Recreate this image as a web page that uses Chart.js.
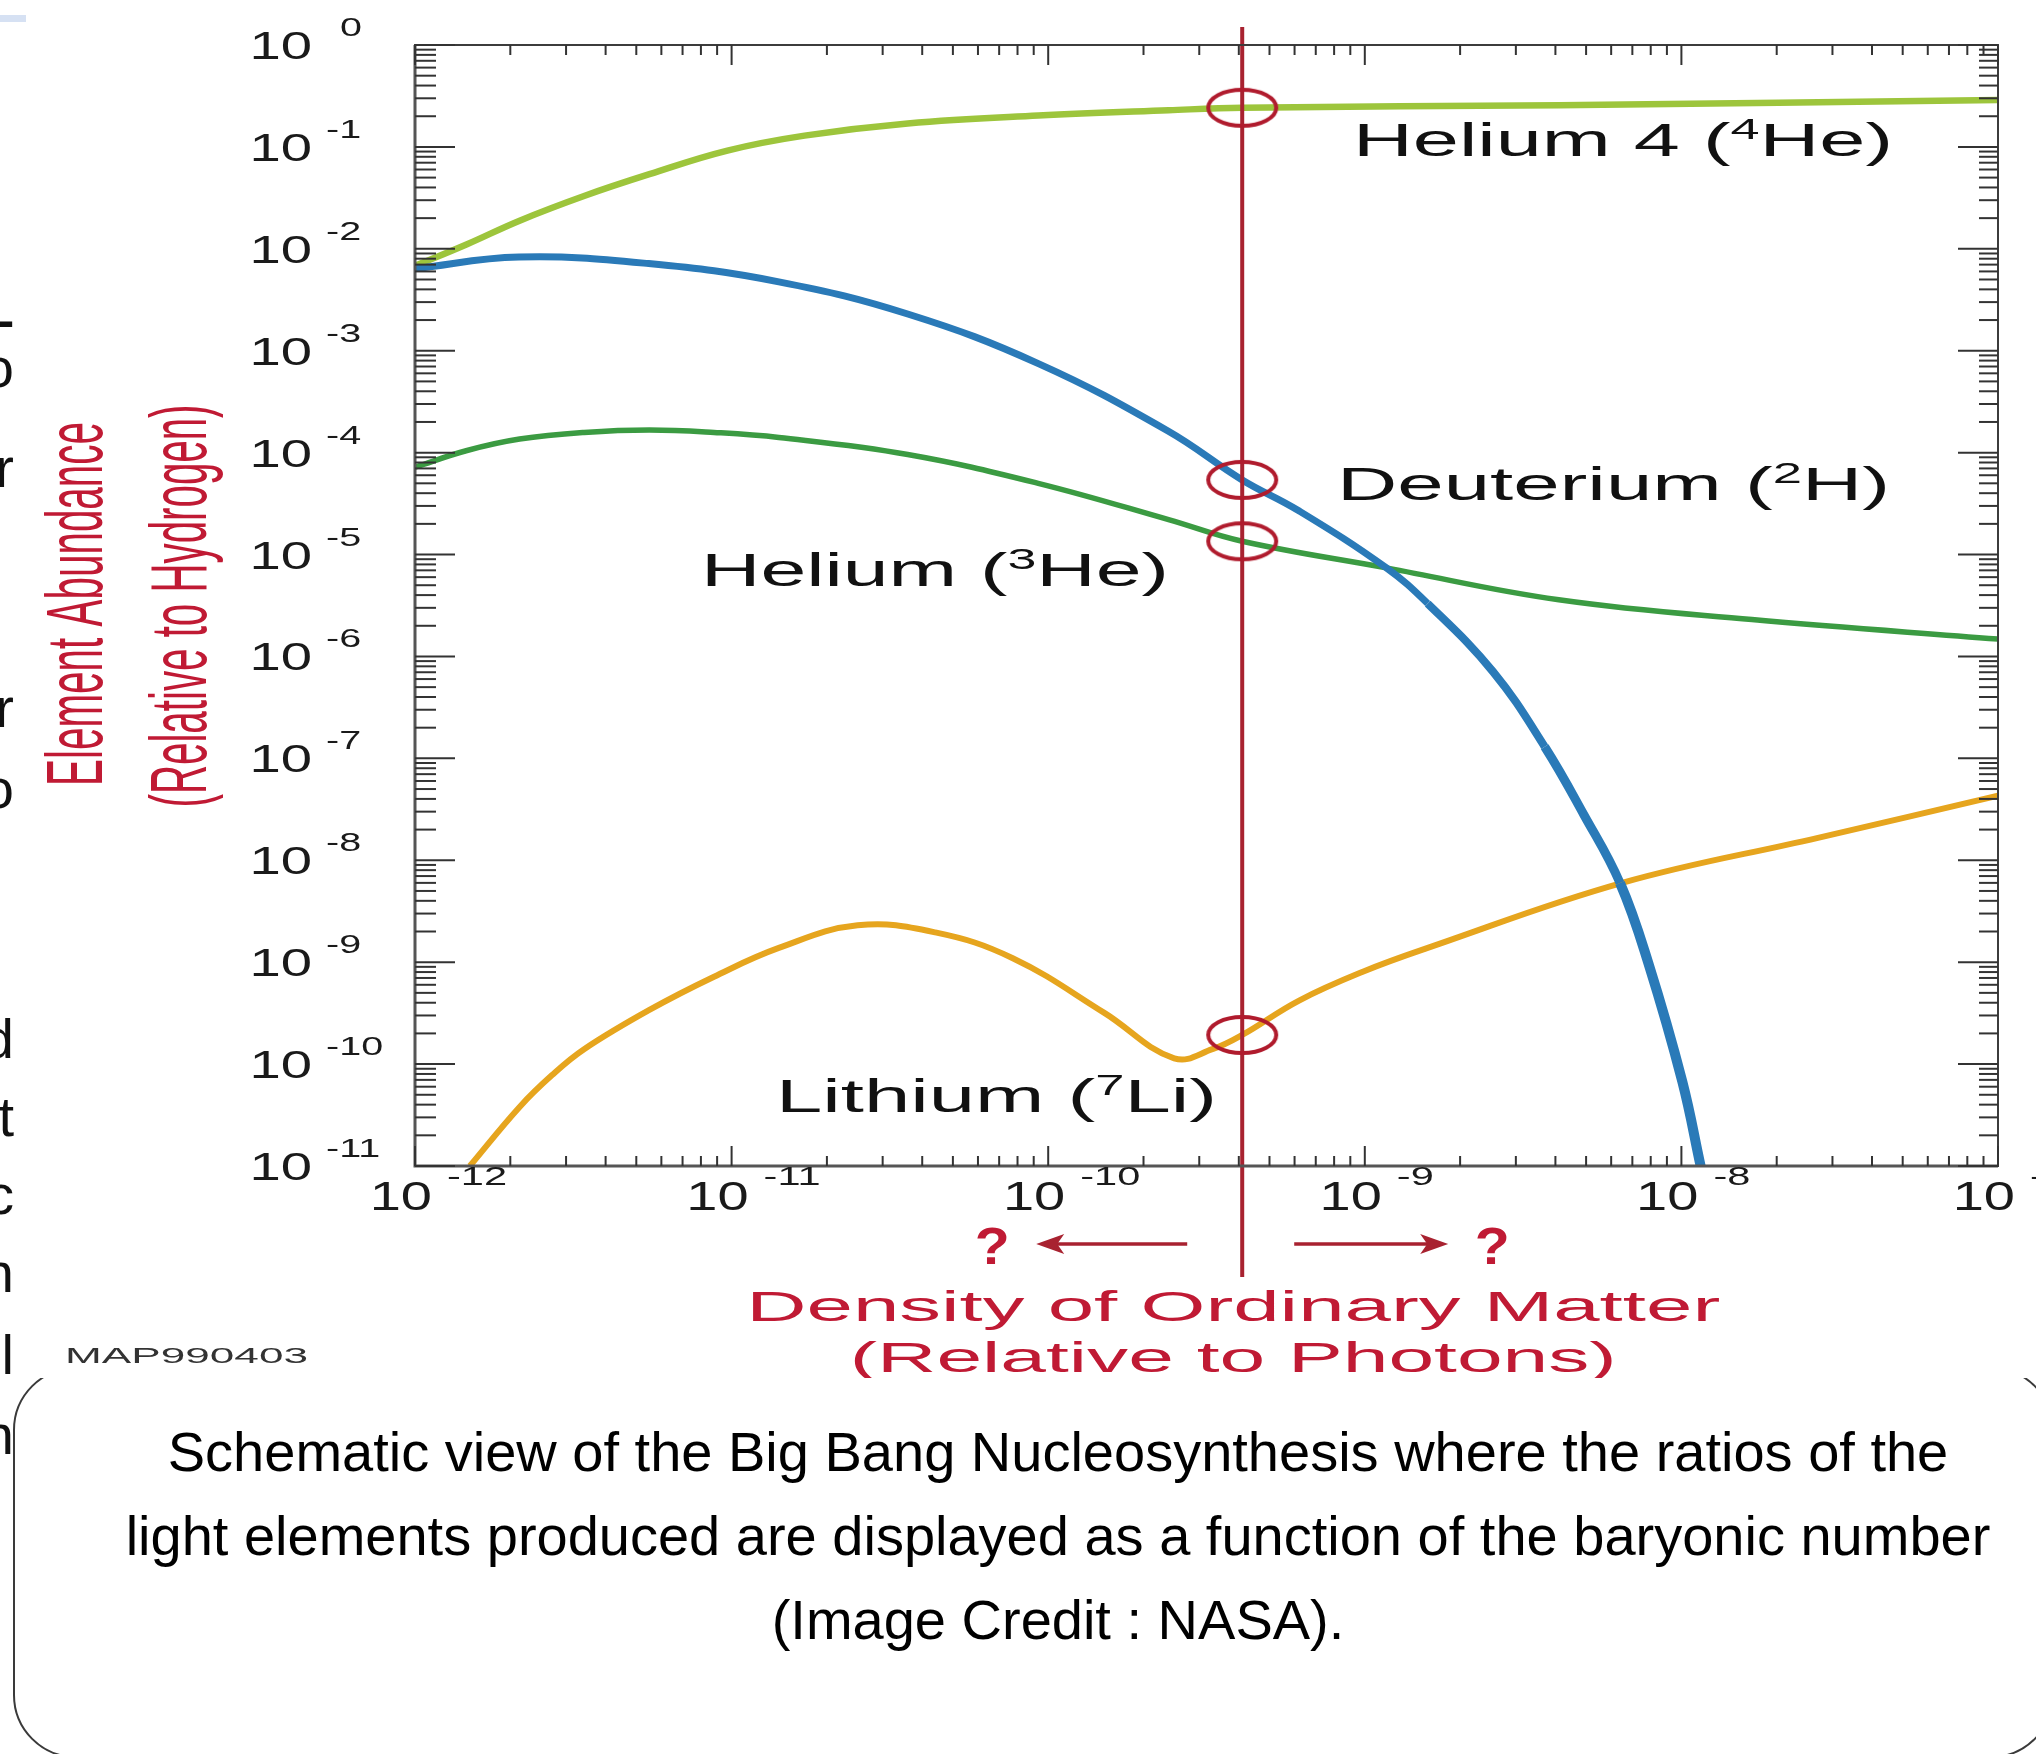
<!DOCTYPE html>
<html>
<head>
<meta charset="utf-8">
<title>Big Bang Nucleosynthesis</title>
<script src="https://cdn.jsdelivr.net/npm/chart.js@4.4.1/dist/chart.umd.min.js"></script>
<style>
  html, body { margin: 0; padding: 0; background: #fff; }
  body { width: 2036px; height: 1754px; position: relative; overflow: hidden; font-family: "Liberation Sans", Arial, sans-serif; }
  #chart-wrap { position: absolute; left: 0; top: 0; width: 2036px; height: 1378px; background: #fff; z-index: 2; }
  #caption-box { position: absolute; left: 13px; top: 1367px; width: 2041px; height: 391px; box-sizing: border-box; border: 2px solid #3a3a3a; border-radius: 63px; z-index: 1; }
  #caption { position: absolute; left: 13px; top: 1410px; width: 2090px; text-align: center; font-size: 56px; line-height: 84px; color: #000; z-index: 3; }
  .edge { position: absolute; left: -200px; width: 214px; text-align: right; font-size: 56px; line-height: 56px; color: #111; z-index: 3; }
  #topbar { position: absolute; left: 0; top: 15px; width: 26px; height: 7px; background: #d6e1f3; z-index: 3; }
</style>
</head>
<body>
<div id="topbar"></div>
<div id="chart-wrap"><canvas id="bbn-chart"></canvas></div>
<div id="caption-box"></div>
<div id="caption">Schematic view of the Big Bang Nucleosynthesis where the ratios of the<br>light elements produced are displayed as a function of the baryonic number<br>(Image Credit : NASA).</div>
<div class="edge" style="top:292px;font-weight:bold">–</div>
<div class="edge" style="top:340px">o</div>
<div class="edge" style="top:440px">r</div>
<div class="edge" style="top:680px">r</div>
<div class="edge" style="top:761px">o</div>
<div class="edge" style="top:1011px">d</div>
<div class="edge" style="top:1089px">t</div>
<div class="edge" style="top:1167px">c</div>
<div class="edge" style="top:1245px">n</div>
<div class="edge" style="top:1327px">l</div>
<div class="edge" style="top:1407px">n</div>
<script>
// ---- data ----
const xTickExponents = [-12, -11, -10, -9, -8, -7];
const yTickExponents = [0, -1, -2, -3, -4, -5, -6, -7, -8, -9, -10, -11];

const he4X = [1.0e-12, 1.46e-12, 2.14e-12, 3.42e-12, 5.5e-12, 9.7e-12, 1.7e-11, 3.6e-11, 9.3e-11, 2.4e-10, 4.1e-10, 4.1e-9, 1.0e-7];
const he4Y = [6.8e-3, 1.11e-2, 1.89e-2, 3.3e-2, 5.4e-2, 9.2e-2, 1.29e-1, 1.7e-1, 2.03e-1, 2.29e-1, 2.42e-1, 2.57e-1, 2.89e-1];

const deutX = [1.0e-12, 2.13e-12, 5.47e-12, 1.41e-11, 3.62e-11, 9.31e-11, 2.39e-10, 4.1e-10, 6.15e-10, 1.17e-9, 1.58e-9, 2.54e-9, 3.7e-9, 4.91e-9, 6.4e-9, 7.87e-9, 1.007e-8, 1.15e-8];
const deutY = [6.4e-3, 8.3e-3, 7.16e-3, 4.74e-3, 2.28e-3, 7.48e-4, 1.63e-4, 5.4e-5, 2.72e-5, 7.4e-6, 3.3e-6, 7.1e-7, 1.3e-7, 2.83e-8, 5.98e-9, 9.7e-10, 6.7e-11, 1.0e-11];

const he3X = [1.0e-12, 1.46e-12, 2.14e-12, 3.42e-12, 5.5e-12, 8.8e-12, 1.41e-11, 3.6e-11, 9.3e-11, 2.4e-10, 4.1e-10, 1.17e-9, 4.1e-9, 1.67e-8, 1.0e-7];
const he3Y = [7.2e-5, 1.05e-4, 1.36e-4, 1.58e-4, 1.67e-4, 1.58e-4, 1.41e-4, 9.6e-5, 5.0e-5, 2.2e-5, 1.35e-5, 7.4e-6, 3.6e-6, 2.3e-6, 1.48e-6];

const li7X = [1.49e-12, 2.14e-12, 2.71e-12, 3.42e-12, 5.5e-12, 8.8e-12, 1.41e-11, 2.5e-11, 4.4e-11, 7.7e-11, 1.5e-10, 2.5e-10, 3.3e-10, 4.1e-10, 6.2e-10, 9.9e-10, 1.58e-9, 6.5e-9, 2.7e-8, 1.0e-7];
const li7Y = [1.0e-11, 3.8e-11, 7.8e-11, 1.4e-10, 3.4e-10, 7.2e-10, 1.38e-9, 2.3e-9, 1.96e-9, 1.1e-9, 3.2e-10, 1.14e-10, 1.4e-10, 1.93e-10, 4.2e-10, 8.1e-10, 1.38e-9, 6.0e-9, 1.66e-8, 4.3e-8];

// measured baryon density (vertical line) and where it meets each curve
const etaMarker = 4.1e-10;
const markerY = [2.42e-1, 5.4e-5, 1.35e-5, 1.93e-10];

const FONT = '"Liberation Sans", Arial, sans-serif';
const RED = '#c01a34';
const LINE_RED = '#a82230';

function zip(xs, ys) {
  return xs.map((x, i) => ({ x: x, y: ys[i] }));
}

// ellipse marker used as point style
function makeRing() {
  const c = document.createElement('canvas');
  c.width = 80;
  c.height = 46;
  const g = c.getContext('2d');
  g.strokeStyle = '#b01b2d';
  g.lineWidth = 4;
  g.beginPath();
  g.ellipse(40, 23, 34, 18, 0, 0, Math.PI * 2);
  g.stroke();
  return c;
}

// draw text stretched horizontally (the original uses an extended face)
function drawStretched(ctx, text, x, y, size, color, sx, align, weight) {
  ctx.save();
  ctx.font = (weight || '') + ' ' + size + 'px ' + FONT;
  ctx.fillStyle = color;
  ctx.textAlign = 'left';
  ctx.textBaseline = 'alphabetic';
  const w = ctx.measureText(text).width * sx;
  let left = x;
  if (align === 'center') left = x - w / 2;
  if (align === 'right') left = x - w;
  ctx.translate(left, y);
  ctx.scale(sx, 1);
  ctx.fillText(text, 0, 0);
  ctx.restore();
  return w;
}

// text with superscripts, fitted to a target width
function drawRich(ctx, parts, x, y, size, color, targetWidth) {
  const supSize = Math.round(size * 0.64);
  ctx.save();
  let natural = 0;
  parts.forEach(p => {
    ctx.font = (p.sup ? supSize : size) + 'px ' + FONT;
    natural += ctx.measureText(p.t).width;
  });
  const sx = targetWidth / natural;
  let cx = x;
  parts.forEach(p => {
    ctx.font = (p.sup ? supSize : size) + 'px ' + FONT;
    const w = ctx.measureText(p.t).width * sx;
    ctx.save();
    ctx.translate(cx, p.sup ? y - size * 0.36 : y);
    ctx.scale(sx, 1);
    ctx.fillStyle = color;
    ctx.fillText(p.t, 0, 0);
    ctx.restore();
    cx += w;
  });
  ctx.restore();
}

function drawFitted(ctx, text, x, y, size, color, targetWidth, align, rotate) {
  ctx.save();
  ctx.font = size + 'px ' + FONT;
  const sx = targetWidth / ctx.measureText(text).width;
  ctx.translate(x, y);
  if (rotate) ctx.rotate(-Math.PI / 2);
  ctx.scale(sx, 1);
  ctx.fillStyle = color;
  ctx.textAlign = align || 'center';
  ctx.fillText(text, 0, 0);
  ctx.restore();
}

const minorSteps = [2, 3, 4, 5, 6, 7, 8, 9];

const framePlugin = {
  id: 'frameAndLabels',
  beforeDatasetDraw(chart, args) {
    // vertical red line: over the curves, under the rings
    if (args.index !== 0) return;
    const { ctx, scales: { x } } = chart;
    const px = x.getPixelForValue(etaMarker);
    ctx.save();
    ctx.strokeStyle = LINE_RED;
    ctx.lineWidth = 4;
    ctx.beginPath();
    ctx.moveTo(px, 27);
    ctx.lineTo(px, 1277);
    ctx.stroke();
    ctx.restore();
  },
  afterDraw(chart) {
    const { ctx, chartArea: a, scales: { x, y } } = chart;
    ctx.save();

    // frame
    ctx.strokeStyle = '#3c3c3c';
    ctx.lineWidth = 2;
    ctx.strokeRect(a.left, a.top, a.right - a.left, a.bottom - a.top);
    ctx.lineWidth = 3;
    ctx.strokeStyle = '#555';
    ctx.beginPath();
    ctx.moveTo(a.left, a.top);
    ctx.lineTo(a.left, a.bottom);
    ctx.lineTo(a.right, a.bottom);
    ctx.stroke();

    // inward ticks
    ctx.lineWidth = 2;
    ctx.strokeStyle = '#333';
    const tick = (x1, y1, x2, y2) => { ctx.beginPath(); ctx.moveTo(x1, y1); ctx.lineTo(x2, y2); ctx.stroke(); };
    yTickExponents.forEach(e => {
      const py = y.getPixelForValue(Math.pow(10, e));
      tick(a.left, py, a.left + 40, py);
      tick(a.right, py, a.right - 40, py);
    });
    yTickExponents.slice(1).forEach(e => {
      minorSteps.forEach(k => {
        const py = y.getPixelForValue(k * Math.pow(10, e));
        tick(a.left, py, a.left + 21, py);
        tick(a.right, py, a.right - 19, py);
      });
    });
    xTickExponents.forEach(e => {
      const px = x.getPixelForValue(Math.pow(10, e));
      tick(px, a.bottom, px, a.bottom - 20);
      tick(px, a.top, px, a.top + 20);
    });
    xTickExponents.slice(0, -1).forEach(e => {
      minorSteps.forEach(k => {
        const px = x.getPixelForValue(k * Math.pow(10, e));
        tick(px, a.bottom, px, a.bottom - 10);
        tick(px, a.top, px, a.top + 10);
      });
    });

    // tick labels 10^n
    yTickExponents.forEach(e => {
      const py = y.getPixelForValue(Math.pow(10, e));
      drawStretched(ctx, '10', 312, py + 14, 38, '#1a1a1a', 1.48, 'right');
      drawStretched(ctx, String(e), e === 0 ? 340 : 326, py - 9, 26, '#1a1a1a', 1.52, 'left');
    });
    xTickExponents.forEach(e => {
      const px = x.getPixelForValue(Math.pow(10, e));
      drawStretched(ctx, '10', px + 17, 1210, 40, '#1a1a1a', 1.4, 'right');
      drawStretched(ctx, String(e), px + 32, 1185, 26, '#1a1a1a', 1.6, 'left');
    });

    // curve labels
    drawRich(ctx, [{ t: 'Helium 4 (' }, { t: '4', sup: true }, { t: 'He)' }], 1353, 156, 46, '#111', 540);
    drawRich(ctx, [{ t: 'Deuterium (' }, { t: '2', sup: true }, { t: 'H)' }], 1337, 500, 46, '#111', 553);
    drawRich(ctx, [{ t: 'Helium (' }, { t: '3', sup: true }, { t: 'He)' }], 701, 586, 46, '#111', 468);
    drawRich(ctx, [{ t: 'Lithium (' }, { t: '7', sup: true }, { t: 'Li)' }], 776, 1112, 46, '#111', 441);

    // axis titles
    const mid = x.getPixelForValue(etaMarker);
    drawFitted(ctx, 'Density of Ordinary Matter', mid - 9, 1321, 43, RED, 974, 'center');
    drawFitted(ctx, '(Relative to Photons)', mid - 9, 1372, 43, RED, 767, 'center');
    drawFitted(ctx, 'Element Abundance', 102, 604, 80, RED, 364, 'center', true);
    drawFitted(ctx, '(Relative to Hydrogen)', 206, 606, 80, RED, 403, 'center', true);

    // arrows either side of the marker line
    ctx.strokeStyle = LINE_RED;
    ctx.fillStyle = LINE_RED;
    ctx.lineWidth = 3.5;
    const ay = 1244;
    const arrow = (from, to) => {
      const dir = Math.sign(to - from);
      ctx.beginPath(); ctx.moveTo(from, ay); ctx.lineTo(to - dir * 16, ay); ctx.stroke();
      ctx.beginPath(); ctx.moveTo(to, ay); ctx.lineTo(to - dir * 28, ay - 10); ctx.lineTo(to - dir * 21, ay); ctx.lineTo(to - dir * 28, ay + 10); ctx.closePath(); ctx.fill();
    };
    arrow(mid - 55, mid - 206);
    arrow(mid + 52, mid + 206);
    drawStretched(ctx, '?', mid - 250, 1264, 52, RED, 1.1, 'center', 'bold');
    drawStretched(ctx, '?', mid + 250, 1264, 52, RED, 1.1, 'center', 'bold');

    drawFitted(ctx, 'MAP990403', 65, 1363, 22, '#333', 243, 'left');
    ctx.restore();
  }
};

const ring = makeRing();

const curveDefaults = { showLine: true, pointRadius: 0, tension: 0.4, borderCapStyle: 'butt', borderJoinStyle: 'round', fill: false };

// deuterium stroke thickens gradually along its steep fall
function deutWidth(c) {
  const v = c.p0.parsed.x;
  if (v < 1.2e-9) return 7;
  if (v < 2.6e-9) return 8;
  if (v < 5e-9) return 9;
  return 10;
}

new Chart(document.getElementById('bbn-chart'), {
  type: 'scatter',
  data: {
    datasets: [
      { label: 'marker', data: markerY.map(v => ({ x: etaMarker, y: v })), pointStyle: ring, pointRadius: 12, showLine: false },
      Object.assign({}, curveDefaults, { label: 'Deuterium', data: zip(deutX, deutY), borderColor: '#2a7ab8', segment: { borderWidth: deutWidth } }),
      Object.assign({}, curveDefaults, { label: 'Lithium', data: zip(li7X, li7Y), borderColor: '#e6a51e', borderWidth: 6 }),
      Object.assign({}, curveDefaults, { label: 'Helium 3', data: zip(he3X, he3Y), borderColor: '#3b9b42', borderWidth: 5.5 }),
      Object.assign({}, curveDefaults, { label: 'Helium 4', data: zip(he4X, he4Y), borderColor: '#9dc53c', borderWidth: 6.5 })
    ]
  },
  options: {
    responsive: true,
    maintainAspectRatio: false,
    animation: false,
    devicePixelRatio: 1,
    events: [],
    layout: { padding: { left: 415, top: 45, right: 38, bottom: 212 } },
    plugins: { legend: { display: false }, tooltip: { enabled: false } },
    scales: {
      x: { type: 'logarithmic', min: 1e-12, max: 1e-7, display: false },
      y: { type: 'logarithmic', min: 1e-11, max: 1, display: false }
    }
  },
  plugins: [framePlugin]
});
</script>
</body>
</html>
